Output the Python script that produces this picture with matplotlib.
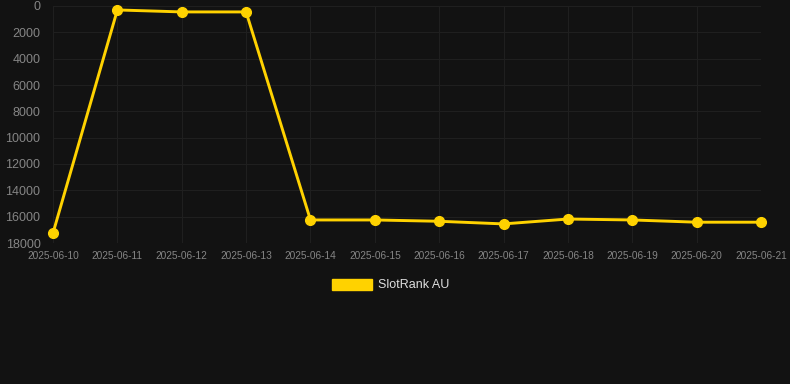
import matplotlib.pyplot as plt
from matplotlib.patches import Patch

plt.rcParams['font.family'] = ['Liberation Sans', 'DejaVu Sans']

dates = ['2025-06-10', '2025-06-11', '2025-06-12', '2025-06-13', '2025-06-14', '2025-06-15',
         '2025-06-16', '2025-06-17', '2025-06-18', '2025-06-19', '2025-06-20', '2025-06-21']
ranks = [17250, 300, 450, 450, 16250, 16250, 16350, 16550, 16180, 16250, 16420, 16420]
y_ticks = [0, 2000, 4000, 6000, 8000, 10000, 12000, 14000, 16000, 18000]

bg = '#121212'
gold = '#FFD200'

fig = plt.figure(figsize=(7.9, 3.84), dpi=100, facecolor=bg)
ax = fig.add_axes([53/790, 1 - 243/384, 708/790, 237/384], facecolor=bg)

x = list(range(len(dates)))
ax.plot(x, ranks, color=gold, linewidth=2.1, marker='o', markersize=7,
        clip_on=False, zorder=3)

ax.set_xlim(0, len(dates) - 1)
ax.set_ylim(18000, 0)
ax.set_xticks(x)
ax.set_xticklabels(dates, fontsize=7.3, color='#858585')
ax.set_yticks(y_ticks)
ax.set_yticklabels([str(v) for v in y_ticks], fontsize=9, color='#858585')
ax.tick_params(axis='both', length=0, pad=6)
ax.tick_params(axis='y', pad=9)
ax.grid(True, color='#1f1f1f', linewidth=0.8)
for s in ax.spines.values():
    s.set_visible(False)

handle = Patch(facecolor=gold, edgecolor=gold)
fig.legend([handle], ['SlotRank AU'], loc='center', bbox_to_anchor=(0.495, 1 - 285/384),
           frameon=False, fontsize=9, handlelength=3.2, handleheight=1.0,
           handletextpad=0.5, labelcolor='#dddddd')

fig.savefig('out.png', dpi=100, facecolor=bg)
